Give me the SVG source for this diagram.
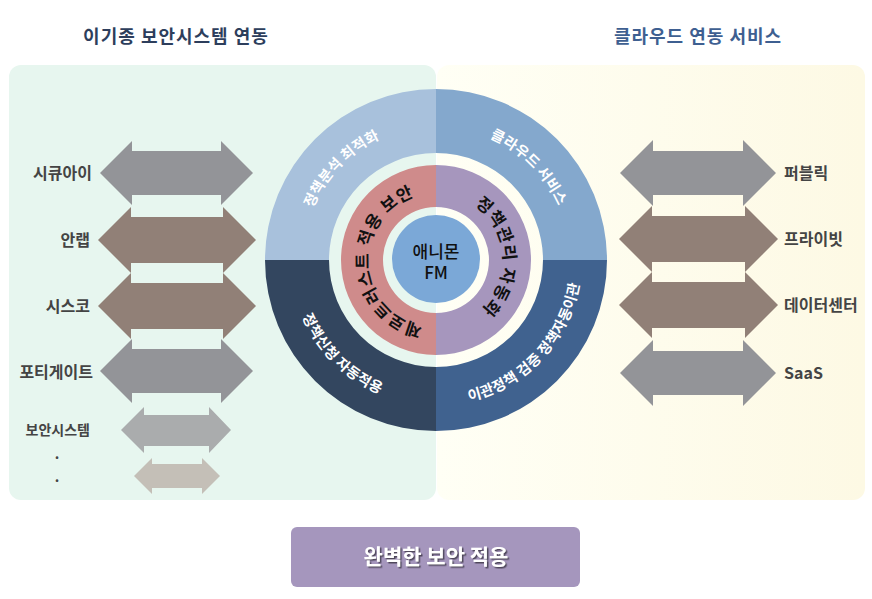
<svg xmlns="http://www.w3.org/2000/svg" width="872" height="599" viewBox="0 0 872 599">
<defs>
<linearGradient id="gR" x1="0" y1="0" x2="1" y2="0">
<stop offset="0" stop-color="#fffff5"/>
<stop offset="1" stop-color="#fdf9e4"/>
</linearGradient>
<filter id="sh" x="-10%" y="-30%" width="120%" height="160%">
<feDropShadow dx="1.5" dy="1.5" stdDeviation="0.6" flood-color="#403a4c" flood-opacity="0.85"/>
</filter>
<path id="pTL" d="M334.9,347.9 A134,134 0 0 1 520.3,155.9"/>
<path id="pTR" d="M349.9,157.4 A134,134 0 0 1 538.6,346.1"/>
<path id="pBL" d="M324.9,166.8 A145,145 0 0 0 529.2,371.1"/>
<path id="pBR" d="M346.7,374.3 A145,145 0 0 0 543.8,163.0"/>
<path id="pIL" d="M434.2,327 A67,67 0 0 1 426.1,193.7"/>
<path id="pIR" d="M437.8,193 A67,67 0 0 1 445.9,326.3"/>
</defs>
<style>
text{font-family:"Noto Sans CJK KR","Noto Sans",sans-serif}
.title{font-size:18px;font-weight:bold;text-anchor:middle;letter-spacing:1px}
.lbl{font-size:16px;font-weight:bold;fill:#444}
.ring{font-size:14.5px;font-weight:bold;fill:#fff;letter-spacing:0.3px}
.iring{font-size:17px;font-weight:bold;fill:#111;letter-spacing:1px}
.gray{fill:#939498}
.brown{fill:#918077}
</style>
<rect x="0" y="0" width="872" height="599" fill="#ffffff"/>
<g id="panels">
<rect x="9" y="65" width="427" height="435" rx="12" fill="#e7f6ef"/>
<rect x="437" y="65" width="428" height="435" rx="12" fill="url(#gR)"/>
</g>
<g id="titles">
<text class="title" x="176" y="43" fill="#2d3e5c">이기종 보안시스템 연동</text>
<text class="title" x="698" y="43" fill="#3e5f91">클라우드 연동 서비스</text>
</g>
<g id="connectors">
<polygon class="gray" points="100,173 132,141 132,151 221,151 221,141 253,173 221,205 221,195 132,195 132,205"/>
<polygon class="brown" points="98,240 131,207 131,217 223,217 223,207 256,240 223,273 223,263 131,263 131,273"/>
<polygon class="brown" points="98,306 131,273 131,283 223,283 223,273 256,306 223,339 223,329 131,329 131,339"/>
<polygon class="gray" points="100,371 132,339 132,349 221,349 221,339 253,371 221,403 221,393 132,393 132,403"/>
<polygon fill="#aaacad" points="121,430 144,407 144,415 209,415 209,407 231,430 209,453 209,446 144,446 144,453"/>
<polygon fill="#c4bfb7" points="134,476 152,458 152,464 202,464 202,458 220,476 202,494 202,488 152,488 152,494"/>
<polygon class="gray" points="620,173 653,140 653,151 743,151 743,140 776,173 743,206 743,195 653,195 653,206"/>
<polygon class="brown" points="619,239 652,206 652,216 745,216 745,206 778,239 745,272 745,262 652,262 652,272"/>
<polygon class="brown" points="619,305 652,272 652,282 745,282 745,272 778,305 745,338 745,328 652,328 652,338"/>
<polygon class="gray" points="620,373 653,340 653,351 743,351 743,340 776,373 743,406 743,395 653,395 653,406"/>
</g>
<g id="left-labels">
<text class="lbl" x="92" y="179" text-anchor="end">시큐아이</text>
<text class="lbl" x="90" y="246" text-anchor="end">안랩</text>
<text class="lbl" x="90" y="312" text-anchor="end">시스코</text>
<text class="lbl" x="93" y="378" text-anchor="end">포티게이트</text>
<text class="lbl" x="90" y="435" text-anchor="end" style="font-size:14px">보안시스템</text>
<text class="lbl" x="57" y="459" text-anchor="middle" style="font-size:14px">.</text>
<text class="lbl" x="57" y="482" text-anchor="middle" style="font-size:14px">.</text>
</g>
<g id="right-labels">
<text class="lbl" x="784" y="179">퍼블릭</text>
<text class="lbl" x="784" y="245">프라이빗</text>
<text class="lbl" x="784" y="311">데이터센터</text>
<text class="lbl" x="784" y="379">SaaS</text>
</g>
<g id="outer-ring">
<path id="q-tl" d="M265,260 A171,171 0 0 1 436,89 L436,153 A107,107 0 0 0 329,260 Z" fill="#a8c1dc"/>
<path id="q-tr" d="M436,89 A171,171 0 0 1 607,260 L543,260 A107,107 0 0 0 436,153 Z" fill="#84a8cd"/>
<path id="q-br" d="M607,260 A171,171 0 0 1 436,431 L436,367 A107,107 0 0 0 543,260 Z" fill="#40628f"/>
<path id="q-bl" d="M436,431 A171,171 0 0 1 265,260 L329,260 A107,107 0 0 0 436,367 Z" fill="#33465f"/>
<text class="ring"><textPath href="#pTL" startOffset="50%" text-anchor="middle">정책분석 최적화</textPath></text>
<text class="ring"><textPath href="#pTR" startOffset="50%" text-anchor="middle">클라우드 서비스</textPath></text>
<text class="ring"><textPath href="#pBL" startOffset="50%" text-anchor="middle">정책신청 자동적용</textPath></text>
<text class="ring"><textPath href="#pBR" startOffset="50%" text-anchor="middle">이관정책 검증 정책자동이관</textPath></text>
</g>
<g id="inner-ring">
<path d="M436,165 A95,95 0 0 0 436,355 L436,313 A53,53 0 0 1 436,207 Z" fill="#cf8b8b"/>
<path d="M436,165 A95,95 0 0 1 436,355 L436,313 A53,53 0 0 0 436,207 Z" fill="#a696bd"/>
<text class="iring"><textPath href="#pIL" startOffset="50%" text-anchor="middle">제로트러스트 적용 보안</textPath></text>
<text class="iring"><textPath href="#pIR" startOffset="50%" text-anchor="middle">정책관리 자동화</textPath></text>
</g>
<g id="center">
<circle cx="436" cy="259" r="44" fill="#7ba8d7"/>
<text x="436" y="258" text-anchor="middle" style="font-size:17px;font-weight:500;fill:#111">애니몬</text>
<text x="436" y="279" text-anchor="middle" style="font-size:17px;font-weight:500;fill:#111">FM</text>
</g>
<g id="result">
<rect x="291" y="527" width="289" height="60" rx="6" fill="#a596bd"/>
<text x="436" y="564" text-anchor="middle" filter="url(#sh)" style="font-size:21px;font-weight:bold;fill:#fff">완벽한 보안 적용</text>
</g>
</svg>
